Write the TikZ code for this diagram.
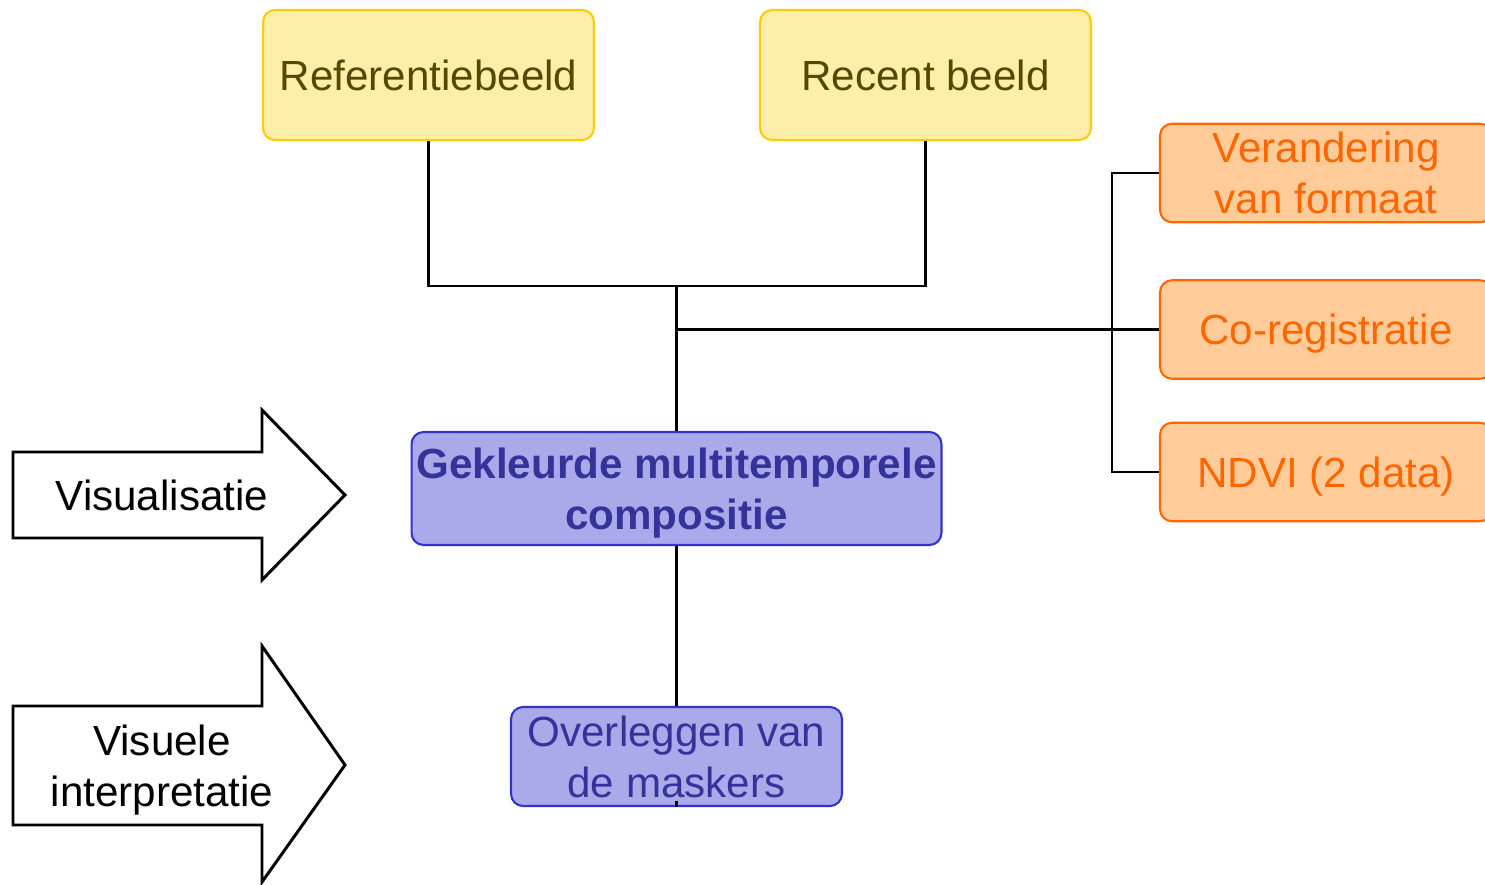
\documentclass[tikz,border=0pt]{standalone}
\usepackage{fontspec}
\setmainfont{Liberation Sans}
\usetikzlibrary{positioning}

\definecolor{geelvul}{HTML}{FFEEAA}
\definecolor{geelrand}{HTML}{FFCC00}
\definecolor{geeltekst}{HTML}{574800}
\definecolor{oranjevul}{HTML}{FFCC99}
\definecolor{oranjerand}{HTML}{FF6600}
\definecolor{blauwvul}{HTML}{AAAAEA}
\definecolor{blauwrand}{HTML}{3333CC}
\definecolor{blauwtekst}{HTML}{333399}

\tikzset{
  vak/.style={draw,rounded corners=0.24cm,line width=1.2pt,align=center,inner sep=0pt,
    text depth=0pt,font=\fontsize{24}{29}\selectfont},
  beeld/.style={vak,fill=geelvul,draw=geelrand,text=geeltekst,minimum width=6.62cm,minimum height=2.6cm},
  stap/.style={vak,fill=oranjevul,draw=oranjerand,text=oranjerand,minimum width=6.64cm,minimum height=1.97cm},
  resultaat/.style={vak,fill=blauwvul,draw=blauwrand,text=blauwtekst},
  lijn/.style={line width=1.4pt},
  pijl/.style={draw,line width=1.7pt,fill=white,line join=miter},
  pijltekst/.style={align=center,inner sep=0pt,text depth=0pt,font=\fontsize{24}{29}\selectfont}
}

\begin{document}
\begin{tikzpicture}[x=0.02cm,y=-0.02cm]
\clip (0,0) rectangle (1485,885);

% invoerbeelden
\node[beeld] (ref) at (428.5,75) {Referentiebeeld};
\node[beeld] (rec) at (925.5,75) {Recent beeld};

% voorbewerkingen
\foreach \t/\y [count=\n] in {{Verandering\\van formaat}/173,Co-registratie/329.5,NDVI (2 data)/472}
  \node[stap] (S\n) at (1326,\y) {\t};

% composities
\node[resultaat,font=\fontsize{24}{29}\selectfont\bfseries,minimum width=10.6cm,minimum height=2.26cm] (comp) at (676.5,488.5) {Gekleurde multitemporele\\compositie};
\node[resultaat,minimum width=6.62cm,minimum height=1.98cm] (mask) at (676.5,756.5) {Overleggen van\\de maskers};

% verbindingen
\coordinate (join) at (676.5,286);
\coordinate (tak) at (676.5,329.5);
\coordinate (kam) at (1112,329.5);
\draw[lijn] (ref.south) |- (join) -| (rec.south);
\draw[lijn] (join) -- (comp.north);
\draw[lijn] (tak) -- (S2.west);
\draw[lijn] (S1.west) -- (S1.west -| kam) -- (S3.west -| kam) -- (S3.west);
\draw[lijn] (comp.south) -- (mask.north);
\draw[lijn] (mask.south) -- ++(0,-6);

% pijlen links
\draw[pijl] (13,452) -- (262,452) -- (262,410) -- (345,495) -- (262,580) -- (262,538) -- (13,538) -- cycle;
\node[pijltekst] (vis) at (162,495) {Visualisatie};
\draw[pijl] (13,706) -- (262,706) -- (262,646) -- (345,765) -- (262,882) -- (262,825) -- (13,825) -- cycle;
\node[pijltekst] (interp) at (162,766) {Visuele\\interpretatie};
\end{tikzpicture}
\end{document}
